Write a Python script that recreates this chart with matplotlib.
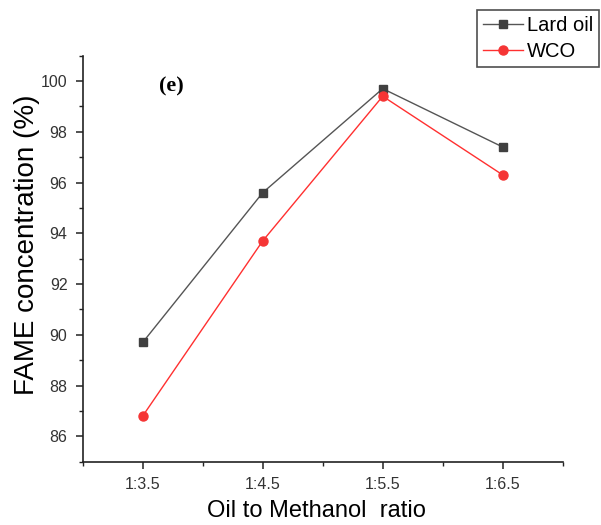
import matplotlib
matplotlib.use("Agg")
import matplotlib.pyplot as plt
from matplotlib.ticker import MultipleLocator, FixedLocator

# Oil to methanol molar ratios and FAME yield for each feedstock
ratios = ["1:3.5", "1:4.5", "1:5.5", "1:6.5"]
lard_oil = [89.7, 95.6, 99.7, 97.4]
wco = [86.8, 93.7, 99.4, 96.3]

plt.rcParams['font.family'] = ['Liberation Sans', 'DejaVu Sans']

fig = plt.figure(figsize=(6.01, 5.25), dpi=100)
ax = fig.add_axes([0.1376, 0.1206, 0.7987, 0.7734])

x = list(range(len(ratios)))
ax.plot(x, lard_oil, color="#555555", lw=1.0, marker="s", ms=6,
        mfc="#404040", mec="#404040", label="Lard oil")
ax.plot(x, wco, color="#ff3030", lw=1.0, marker="o", ms=6.5,
        mfc="#f53535", mec="#f53535", label="WCO")

ax.set_xlim(-0.5, 3.5)
ax.set_ylim(85, 101)
ax.set_xticks(x)
ax.set_xticklabels(ratios)
ax.xaxis.set_minor_locator(FixedLocator([-0.5, 0.5, 1.5, 2.5, 3.5]))
ax.yaxis.set_major_locator(FixedLocator([86, 88, 90, 92, 94, 96, 98, 100]))
ax.yaxis.set_minor_locator(MultipleLocator(1))

for side in ["top", "right"]:
    ax.spines[side].set_visible(False)
for side in ["left", "bottom"]:
    ax.spines[side].set_linewidth(1.2)
    ax.spines[side].set_color("#222222")

ax.tick_params(which="major", direction="out", length=5, width=1.1,
               labelsize=11.5, labelcolor="#333333", color="#222222", pad=6)
ax.tick_params(which="minor", direction="out", length=3, width=1.0, color="#222222")

ax.set_xlabel("Oil to Methanol  ratio", fontsize=17, labelpad=7)
ax.set_ylabel("FAME concentration (%)", fontsize=20)
ax.xaxis.set_label_coords(0.486, -0.095)
ax.yaxis.set_label_coords(-0.088, 0.534)

ax.text(0.184, 0.925, "(e)", transform=ax.transAxes, fontsize=16,
        fontweight="bold", family="Liberation Serif", ha="center", va="center")

leg = fig.legend(loc="upper right", bbox_to_anchor=(0.997, 0.981), fontsize=14.5,
                 frameon=True, fancybox=False, edgecolor="#222222",
                 handlelength=2.0, handletextpad=0.2, borderpad=0.3,
                 labelspacing=0.35, borderaxespad=0)
leg.get_frame().set_linewidth(1.2)

fig.savefig("out.png", dpi=100)
